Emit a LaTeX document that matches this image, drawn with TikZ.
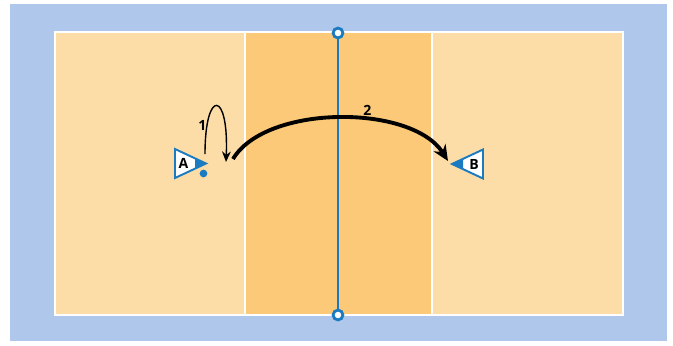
\documentclass[tikz,border=0pt]{standalone}
\usepackage{fontspec}
\setsansfont{Open Sans}
\usetikzlibrary{arrows.meta}
\definecolor{courtblue}{HTML}{AEC7EA}
\definecolor{courtlight}{HTML}{FCDCA7}
\definecolor{courtmid}{HTML}{FBC978}
\definecolor{netblue}{HTML}{1B7BC1}
\begin{document}
\begin{tikzpicture}[x=0.02cm,y=-0.02cm,
  post/.style={circle,draw=netblue,fill=white,line width=1.6pt,minimum size=5.6pt,inner sep=0pt},
  player/.style={draw=netblue,line width=1.1pt,fill=white,line join=miter},
  lbl/.style={font=\sffamily\bfseries\footnotesize,inner sep=0pt}]
\useasboundingbox (0,0) rectangle (673,345);
% background and court
\fill[courtblue] (10,4) rectangle (667,341);
\fill[courtlight] (55,32) rectangle (623,315);
\fill[courtmid] (245,32) rectangle (432,315);
\draw[white,line width=1.7pt] (55,32) rectangle (623,315);
\foreach \x in {245,432}
  \draw[white,line width=1.7pt] (\x,32) -- (\x,315);
% net
\node[post] (netTop) at (338,33) {};
\node[post] (netBot) at (338,315) {};
\draw[netblue,line width=1.5pt] (netTop) -- (netBot);
% player A
\draw[player] (175,149) -- (206,163.5) -- (175,178) -- cycle;
\fill[netblue] (195,158.4) -- (206,163.5) -- (195,168.6) -- cycle;
\node[lbl] (playerA) at (183.5,163.5) {A};
\fill[netblue] (203.5,173.5) circle (2.2pt);
% player B
\draw[player] (483,149.5) -- (452,164) -- (483,178.5) -- cycle;
\fill[netblue] (463,158.9) -- (452,164) -- (463,169.1) -- cycle;
\node[lbl] (playerB) at (474,164) {B};
% path 1
\coordinate (startOne) at (205,154);
\coordinate (endOne) at (226,162);
\draw[line width=0.8pt,-{Stealth[length=6pt,width=5pt]}] (startOne)
  .. controls (205,88) and (229,90) .. (endOne);
\node[lbl] (numOne) at (202.5,125) {1};
% path 2
\coordinate (startTwo) at (233,159);
\coordinate (endTwo) at (448,161);
\draw[line width=2.2pt,-{Stealth[length=9pt,width=8pt]}] (startTwo)
  .. controls (266,104) and (412,104) .. (endTwo);
\node[lbl] (numTwo) at (367.5,110) {2};
\end{tikzpicture}
\end{document}
